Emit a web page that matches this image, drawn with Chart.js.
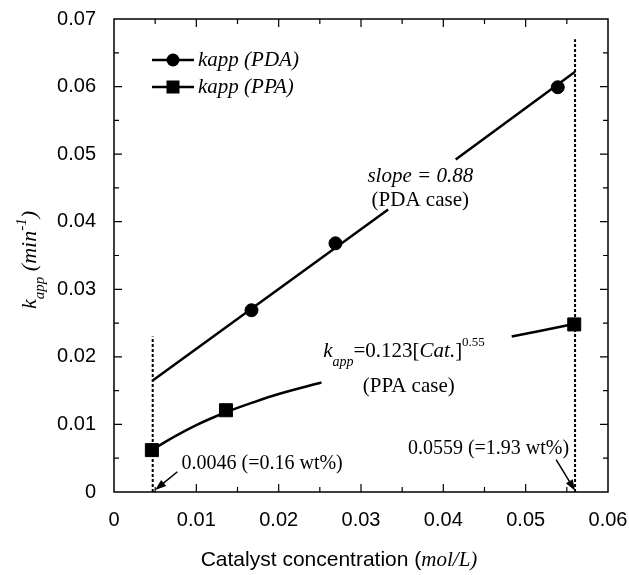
<!DOCTYPE html>
<html>
<head>
<meta charset="utf-8">
<script src="https://cdn.jsdelivr.net/npm/chart.js@4.4.1/dist/chart.umd.min.js"></script>
<style>
  html, body { margin: 0; padding: 0; background: #fff; }
</style>
</head>
<body>
<canvas id="kappChart" width="629" height="575"></canvas>
<script>
// measured points
const pdaX = [0.0167, 0.0269, 0.0539];
const pdaY = [0.0269, 0.0368, 0.0599];
const ppaX = [0.0046, 0.0136, 0.0559];
const ppaY = [0.0062, 0.0121, 0.0248];

// fitted lines as drawn (null = gap under the labels)
const pdaFitX = [0.0047, 0.0333, 0.0375, 0.0415, 0.0560];
const pdaFitY = [0.0165, 0.0418, null, 0.0492, 0.0622];
const ppaFitX = [0.0047, 0.0075, 0.0100, 0.0136, 0.0170, 0.0200, 0.0252, 0.0360, 0.0483, 0.0520, 0.0560];
const ppaFitY = [0.0063, 0.0083, 0.0099, 0.0118, 0.0133, 0.0145, 0.0162, null, 0.0230, 0.0239, 0.0249];

// dotted marker lines
const markLeftX = [0.0047, 0.0047];
const markLeftY = [0, 0.0230];
const markRightX = [0.0560, 0.0560];
const markRightY = [0, 0.0670];

// arrows [tailX, tailY, headX, headY]
const arrowLeft = [0.0077, 0.0030, 0.0050, 0.0003];
const arrowRight = [0.0537, 0.0048, 0.0560, 0.0002];

const xTickLabels = ['0', '0.01', '0.02', '0.03', '0.04', '0.05', '0.06'];
const yTickLabels = ['0', '0.01', '0.02', '0.03', '0.04', '0.05', '0.06', '0.07'];
const legendLabels = ['kapp (PDA)', 'kapp (PPA)'];

const serif = '"Liberation Serif", "Times New Roman", serif';
const sans = '"Liberation Sans", Arial, sans-serif';

const toXY = (xs, ys) => xs.map((x, i) => ({ x: x, y: ys[i] }));

function drawRuns(ctx, runs, x, y, align) {
    let w = 0;
    runs.forEach(r => { ctx.font = r.font; w += ctx.measureText(r.t).width; });
    let cx = align === 'center' ? x - w / 2 : x;
    runs.forEach(r => {
        ctx.font = r.font;
        ctx.fillText(r.t, cx, y + (r.dy || 0));
        cx += ctx.measureText(r.t).width;
    });
}

function drawArrow(ctx, xs, ys, a) {
    const x1 = xs.getPixelForValue(a[0]), y1 = ys.getPixelForValue(a[1]);
    const x2 = xs.getPixelForValue(a[2]), y2 = ys.getPixelForValue(a[3]);
    const ang = Math.atan2(y2 - y1, x2 - x1);
    ctx.beginPath();
    ctx.moveTo(x1, y1);
    ctx.lineTo(x2 - 8 * Math.cos(ang), y2 - 8 * Math.sin(ang));
    ctx.lineWidth = 1.5;
    ctx.stroke();
    ctx.beginPath();
    ctx.moveTo(x2, y2);
    ctx.lineTo(x2 - 11 * Math.cos(ang) + 4 * Math.sin(ang), y2 - 11 * Math.sin(ang) - 4 * Math.cos(ang));
    ctx.lineTo(x2 - 11 * Math.cos(ang) - 4 * Math.sin(ang), y2 - 11 * Math.sin(ang) + 4 * Math.cos(ang));
    ctx.closePath();
    ctx.fill();
}

// frame, inward ticks, legend, labels
const decorations = {
    id: 'decorations',
    afterDraw(chart) {
        const { ctx, chartArea: a, scales: { x, y } } = chart;
        ctx.save();
        ctx.strokeStyle = '#000';
        ctx.fillStyle = '#000';
        ctx.lineWidth = 1.5;
        ctx.strokeRect(a.left, a.top, a.right - a.left, a.bottom - a.top);

        ctx.lineWidth = 1.2;
        for (let k = 1; k < 12; k++) {
            const px = x.getPixelForValue(k * 0.005);
            const len = k % 2 === 0 ? 8 : 5;
            ctx.beginPath();
            ctx.moveTo(px, a.bottom); ctx.lineTo(px, a.bottom - len);
            ctx.moveTo(px, a.top); ctx.lineTo(px, a.top + len);
            ctx.stroke();
        }
        for (let k = 1; k < 14; k++) {
            const py = y.getPixelForValue(k * 0.005);
            const len = k % 2 === 0 ? 8 : 5;
            ctx.beginPath();
            ctx.moveTo(a.left, py); ctx.lineTo(a.left + len, py);
            ctx.moveTo(a.right, py); ctx.lineTo(a.right - len, py);
            ctx.stroke();
        }

        // legend
        ctx.textBaseline = 'middle';
        ctx.textAlign = 'left';
        legendLabels.forEach((lab, i) => {
            const ly = a.top + 41 + i * 27;
            ctx.lineWidth = 2.5;
            ctx.beginPath();
            ctx.moveTo(a.left + 38, ly); ctx.lineTo(a.left + 80, ly);
            ctx.stroke();
            if (i === 0) {
                ctx.beginPath(); ctx.arc(a.left + 59, ly, 6.5, 0, Math.PI * 2); ctx.fill();
            } else {
                ctx.fillRect(a.left + 52.5, ly - 6.5, 13, 13);
            }
            ctx.font = 'italic 21px ' + serif;
            ctx.fillText(lab, a.left + 84, ly);
        });

        // annotations
        ctx.textBaseline = 'alphabetic';
        drawRuns(ctx, [{ t: 'slope = 0.88', font: 'italic 21px ' + serif }],
            x.getPixelForValue(0.0372), y.getPixelForValue(0.0469) + 7, 'center');
        drawRuns(ctx, [{ t: '(PDA case)', font: '21px ' + serif }],
            x.getPixelForValue(0.0372), y.getPixelForValue(0.0434) + 7, 'center');
        drawRuns(ctx, [
            { t: 'k', font: 'italic 21px ' + serif },
            { t: 'app', font: 'italic 14px ' + serif, dy: 9 },
            { t: '=0.123[', font: '21px ' + serif },
            { t: 'Cat.', font: 'italic 21px ' + serif },
            { t: ']', font: '21px ' + serif },
            { t: '0.55', font: '13px ' + serif, dy: -11 }
        ], x.getPixelForValue(0.0254), y.getPixelForValue(0.0200), 'left');
        drawRuns(ctx, [{ t: '(PPA case)', font: '21px ' + serif }],
            x.getPixelForValue(0.0358), y.getPixelForValue(0.0158) + 7, 'center');
        drawRuns(ctx, [{ t: '0.0046 (=0.16 wt%)', font: '20px ' + serif }],
            x.getPixelForValue(0.0082), y.getPixelForValue(0.0045) + 7, 'left');
        drawRuns(ctx, [{ t: '0.0559 (=1.93 wt%)', font: '20px ' + serif }],
            x.getPixelForValue(0.0357), y.getPixelForValue(0.0067) + 7, 'left');

        drawArrow(ctx, x, y, arrowLeft);
        drawArrow(ctx, x, y, arrowRight);

        // axis titles
        drawRuns(ctx, [
            { t: 'Catalyst concentration (', font: '21px ' + sans },
            { t: 'mol/L)', font: 'italic 21px ' + serif }
        ], (a.left + a.right) / 2 - 22, 566, 'center');

        ctx.save();
        ctx.translate(36, 260);
        ctx.rotate(-Math.PI / 2);
        drawRuns(ctx, [
            { t: 'k', font: 'italic 22px ' + serif },
            { t: 'app', font: 'italic 15px ' + serif, dy: 8 },
            { t: ' (min', font: 'italic 22px ' + serif },
            { t: '-1', font: 'italic 15px ' + serif, dy: -10 },
            { t: ')', font: 'italic 22px ' + serif }
        ], 0, 0, 'center');
        ctx.restore();
        ctx.restore();
    }
};

new Chart(document.getElementById('kappChart'), {
    type: 'scatter',
    data: {
        datasets: [
            {
                data: toXY(pdaFitX, pdaFitY),
                showLine: true, spanGaps: false,
                borderColor: '#000', borderWidth: 2.5, pointRadius: 0
            },
            {
                data: toXY(ppaFitX, ppaFitY),
                showLine: true, spanGaps: false, cubicInterpolationMode: 'monotone',
                borderColor: '#000', borderWidth: 2.5, pointRadius: 0
            },
            {
                data: toXY(markLeftX, markLeftY),
                showLine: true, borderColor: '#000', borderWidth: 2, borderDash: [3, 2], pointRadius: 0
            },
            {
                data: toXY(markRightX, markRightY),
                showLine: true, borderColor: '#000', borderWidth: 2, borderDash: [3, 2], pointRadius: 0
            },
            {
                data: toXY(pdaX, pdaY),
                pointStyle: 'circle', pointRadius: 6.5,
                backgroundColor: '#000', borderColor: '#000'
            },
            {
                data: toXY(ppaX, ppaY),
                pointStyle: 'rect', pointRadius: 9.2,
                backgroundColor: '#000', borderColor: '#000'
            }
        ]
    },
    options: {
        responsive: false,
        animation: false,
        layout: { padding: { top: 19, right: 21, left: 0, bottom: 0 } },
        plugins: { legend: { display: false }, tooltip: { enabled: false } },
        scales: {
            x: {
                type: 'linear', min: 0, max: 0.06,
                grid: { display: false },
                border: { display: false },
                ticks: {
                    stepSize: 0.01, color: '#000', padding: 8,
                    font: { family: sans, size: 20 },
                    callback: v => xTickLabels[Math.round(v * 100)]
                },
                afterFit: s => { s.height = 83; s.paddingLeft = 0; s.paddingRight = 0; }
            },
            y: {
                min: 0, max: 0.07,
                grid: { display: false },
                border: { display: false },
                ticks: {
                    stepSize: 0.01, color: '#000', padding: 10,
                    font: { family: sans, size: 20 },
                    callback: v => yTickLabels[Math.round(v * 100)]
                },
                afterFit: s => { s.width = 114; s.paddingTop = 0; s.paddingBottom = 0; }
            }
        }
    },
    plugins: [decorations]
});
</script>
</body>
</html>
